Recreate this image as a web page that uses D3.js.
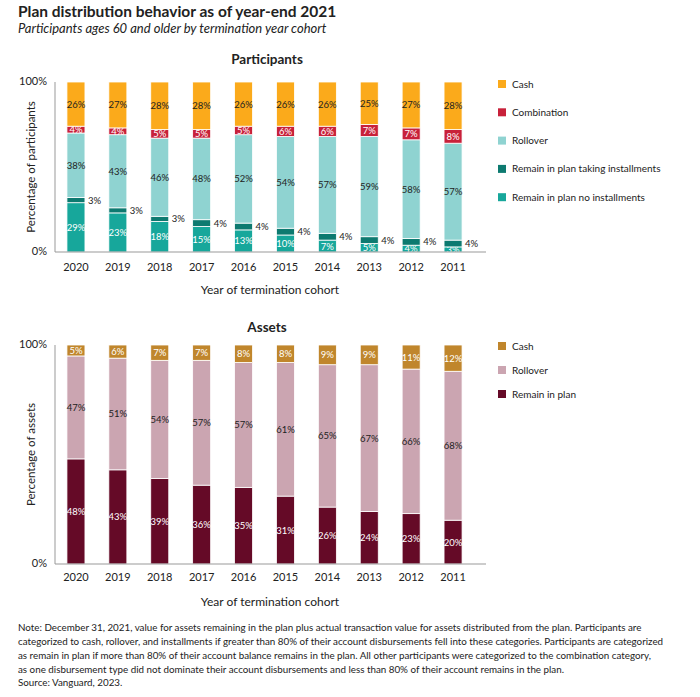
<!DOCTYPE html>
<html>
<head>
<meta charset="utf-8">
<script src="https://cdn.jsdelivr.net/npm/d3@7"></script>
<style>
  body { margin: 0; background: #fff; }
  svg text { font-family: Lato, "Noto Sans", sans-serif; fill: #222; }
</style>
</head>
<body>
<div id="chart"></div>
<script>
// data
var years = ["2020", "2019", "2018", "2017", "2016", "2015", "2014", "2013", "2012", "2011"];

// participants, bottom to top
var noInstall   = [29, 23, 18, 15, 13, 10, 7, 5, 4, 3];
var installment = [3, 3, 3, 4, 4, 4, 4, 4, 4, 4];
var rollover    = [38, 43, 46, 48, 52, 54, 57, 59, 58, 57];
var combination = [4, 4, 5, 5, 5, 6, 6, 7, 7, 8];
var cash        = [26, 27, 28, 28, 26, 26, 26, 25, 27, 28];

// assets, bottom to top
var assetRemain   = [48, 43, 39, 36, 35, 31, 26, 24, 23, 20];
var assetRollover = [47, 51, 54, 57, 57, 61, 65, 67, 66, 68];
var assetCash     = [5, 6, 7, 7, 8, 8, 9, 9, 11, 12];

var partSeries = [
  {name: "Remain in plan no installments", values: noInstall, color: "#17a79b", text: "#fff"},
  {name: "Remain in plan taking installments", values: installment, color: "#0d7a70", text: "outside"},
  {name: "Rollover", values: rollover, color: "#8fd3d1", text: "#222"},
  {name: "Combination", values: combination, color: "#c8213a", text: "#fff"},
  {name: "Cash", values: cash, color: "#fbaa1b", text: "#222"}
];
var assetSeries = [
  {name: "Remain in plan", values: assetRemain, color: "#650a27", text: "#fff"},
  {name: "Rollover", values: assetRollover, color: "#cba5b1", text: "#222"},
  {name: "Cash", values: assetCash, color: "#c0862c", text: "#fff"}
];

var W = 700, H = 697;
var svg = d3.select("#chart").append("svg")
  .attr("width", W).attr("height", H);

// titles
svg.append("text").attr("x", 18).attr("y", 17)
  .style("font-size", "15.5px").style("font-weight", "bold")
  .text("Plan distribution behavior as of year-end 2021");
svg.append("text").attr("x", 18).attr("y", 33)
  .style("font-size", "13px").style("font-style", "italic")
  .text("Participants ages 60 and older by termination year cohort");

var x = d3.scaleBand().domain(years)
  .range([55, 474]).paddingInner(0.57).paddingOuter(0.285);

function drawPanel(series, title, top, bottom, yLabel, titleY, legendY, legendStep, yearY, axisTitleY) {
  var g = svg.append("g");
  var y = d3.scaleLinear().domain([0, 100]).range([bottom, top]);

  g.append("text").attr("x", 267).attr("y", titleY)
    .attr("text-anchor", "middle")
    .style("font-size", "13.5px").style("font-weight", "bold")
    .text(title);

  // stack
  var rows = years.map(function(yr, i) {
    var r = {year: yr};
    series.forEach(function(s) { r[s.name] = s.values[i]; });
    return r;
  });
  var stack = d3.stack().keys(series.map(function(s) { return s.name; }))(rows);

  stack.forEach(function(layer, li) {
    var s = series[li];
    g.selectAll(null).data(layer).enter().append("rect")
      .attr("x", function(d) { return x(d.data.year); })
      .attr("y", function(d) { return y(d[1]); })
      .attr("width", x.bandwidth())
      .attr("height", function(d) { return y(d[0]) - y(d[1]); })
      .attr("fill", s.color)
      .attr("stroke", "#fff").attr("stroke-width", 0.8);

    g.selectAll(null).data(layer).enter().append("text")
      .attr("x", function(d) {
        return s.text == "outside" ? x(d.data.year) + x.bandwidth() + 3 : x(d.data.year) + x.bandwidth() / 2;
      })
      .attr("y", function(d) { return (y(d[0]) + y(d[1])) / 2 + 3.5; })
      .attr("text-anchor", s.text == "outside" ? "start" : "middle")
      .style("font-size", "9.5px")
      .style("fill", s.text == "outside" ? "#222" : s.text)
      .text(function(d) { return (d[1] - d[0]) + "%"; });
  });

  // axes
  g.append("line").attr("x1", 55).attr("x2", 55).attr("y1", top).attr("y2", bottom)
    .attr("stroke", "#999").attr("stroke-width", 1);
  g.append("line").attr("x1", 55).attr("x2", 486).attr("y1", bottom).attr("y2", bottom)
    .attr("stroke", "#999").attr("stroke-width", 1);

  [0, 100].forEach(function(v) {
    g.append("text").attr("x", 47).attr("y", y(v) + 3)
      .attr("text-anchor", "end").style("font-size", "11px")
      .text(v + "%");
  });

  g.selectAll(null).data(years).enter().append("text")
    .attr("x", function(d) { return x(d) + x.bandwidth() / 2; })
    .attr("y", yearY)
    .attr("text-anchor", "middle").style("font-size", "11px")
    .text(function(d) { return d; });

  g.append("text").attr("x", 270).attr("y", axisTitleY)
    .attr("text-anchor", "middle").style("font-size", "12px")
    .text("Year of termination cohort");

  g.append("text")
    .attr("transform", "translate(35," + ((top + bottom) / 2) + ") rotate(-90)")
    .attr("text-anchor", "middle").style("font-size", "11.5px")
    .text(yLabel);

  // legend, top item = last series
  var leg = series.slice().reverse();
  leg.forEach(function(s, i) {
    var ly = legendY + i * legendStep;
    g.append("rect").attr("x", 498).attr("y", ly - 4).attr("width", 8).attr("height", 8)
      .attr("fill", s.color);
    g.append("text").attr("x", 512).attr("y", ly + 3.5)
      .style("font-size", "10px").text(s.name);
  });
}

drawPanel(partSeries, "Participants", 82, 252, "Percentage of participants", 64, 84, 28.3, 271, 294);
drawPanel(assetSeries, "Assets", 345, 564, "Percentage of assets", 332, 346, 24, 581, 606);

// note
var notes = [
  "Note: December 31, 2021, value for assets remaining in the plan plus actual transaction value for assets distributed from the plan. Participants are",
  "categorized to cash, rollover, and installments if greater than 80% of their account disbursements fell into these categories. Participants are categorized",
  "as remain in plan if more than 80% of their account balance remains in the plan. All other participants were categorized to the combination category,",
  "as one disbursement type did not dominate their account disbursements and less than 80% of their account remains in the plan."
];
svg.selectAll(".note").data(notes).enter().append("text")
  .attr("class", "note")
  .attr("x", 18)
  .attr("y", function(d, i) { return 631 + i * 14; })
  .style("font-size", "9.8px")
  .text(function(d) { return d; });
svg.append("text").attr("x", 18).attr("y", 686)
  .style("font-size", "9.8px").text("Source: Vanguard, 2023.");
</script>
</body>
</html>
